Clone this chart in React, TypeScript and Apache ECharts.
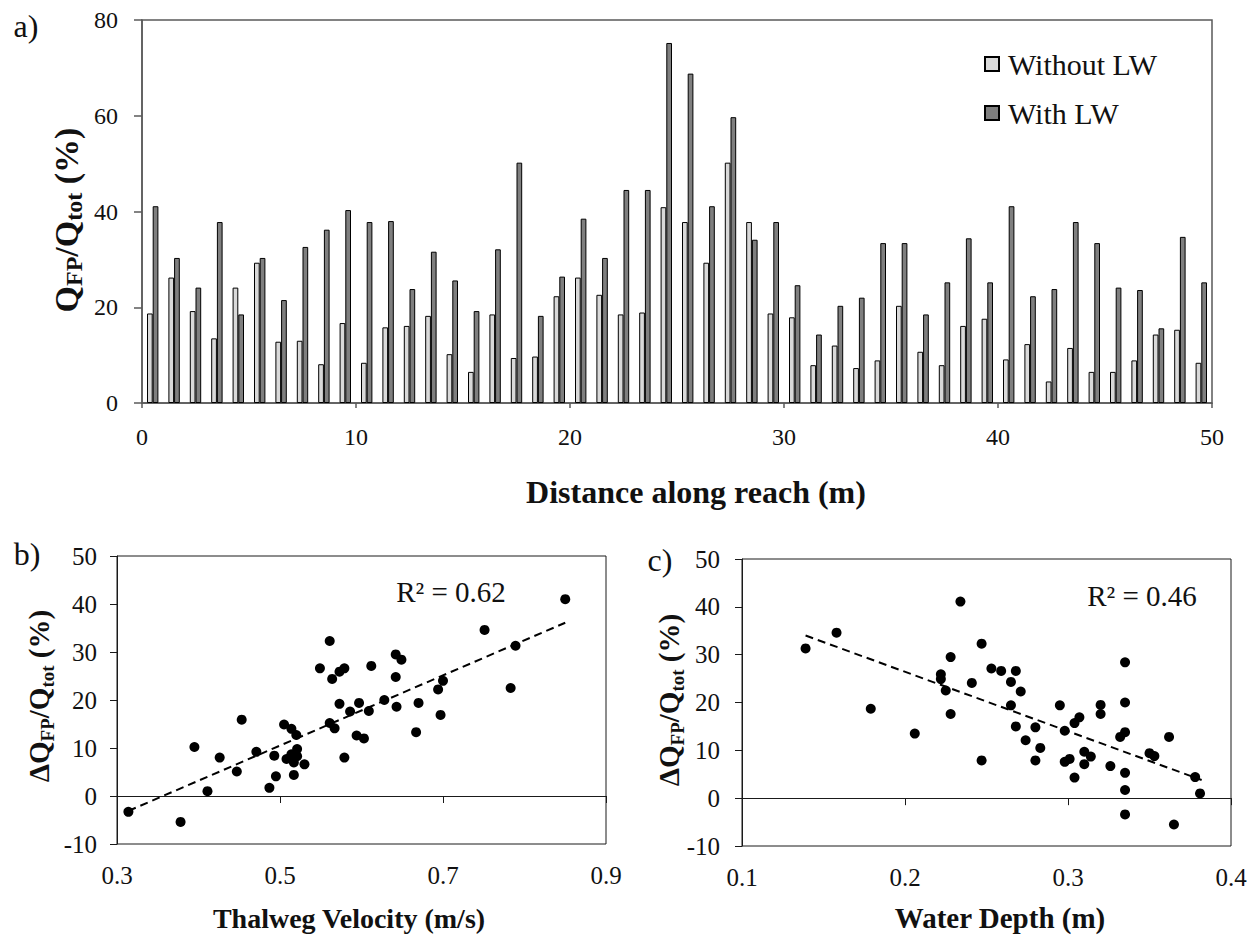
import React, { useEffect, useRef } from "react";
import * as echarts from "echarts";

// ---------- Data ----------
const positions = [
  "0.5","1.5","2.5","3.5","4.5","5.5","6.5","7.5","8.5","9.5",
  "10.5","11.5","12.5","13.5","14.5","15.5","16.5","17.5","18.5","19.5",
  "20.5","21.5","22.5","23.5","24.5","25.5","26.5","27.5","28.5","29.5",
  "30.5","31.5","32.5","33.5","34.5","35.5","36.5","37.5","38.5","39.5",
  "40.5","41.5","42.5","43.5","44.5","45.5","46.5","47.5","48.5","49.5",
];
const withoutLW = [
  18.7, 26.2, 19.2, 13.5, 24.1, 29.3, 12.8, 13.0, 8.1, 16.7,
  8.4, 15.8, 16.1, 18.2, 10.2, 6.5, 18.5, 9.4, 9.7, 22.3,
  26.2, 22.6, 18.5, 18.9, 40.9, 37.8, 29.3, 50.2, 37.8, 18.7,
  17.9, 7.9, 12.0, 7.3, 8.9, 20.3, 10.7, 7.9, 16.1, 17.6,
  9.1, 12.3, 4.5, 11.5, 6.5, 6.5, 8.9, 14.3, 15.3, 8.4,
];
const withLW = [
  41.1, 30.3, 24.1, 37.8, 18.5, 30.3, 21.5, 32.6, 36.2, 40.3,
  37.8, 38.0, 23.8, 31.6, 25.6, 19.2, 32.1, 50.2, 18.2, 26.4,
  38.5, 30.3, 44.5, 44.5, 75.2, 68.8, 41.1, 59.7, 34.1, 37.8,
  24.6, 14.3, 20.3, 22.0, 33.4, 33.4, 18.5, 25.2, 34.4, 25.2,
  41.1, 22.3, 23.8, 37.8, 33.4, 24.1, 23.6, 15.6, 34.7, 25.2,
];

const velocityB = [
  0.314, 0.378, 0.395, 0.411, 0.426, 0.447, 0.453, 0.471, 0.487, 0.493,
  0.495, 0.505, 0.508, 0.514, 0.514, 0.517, 0.517, 0.520, 0.521, 0.521,
  0.530, 0.549, 0.561, 0.561, 0.564, 0.567, 0.573, 0.573, 0.579, 0.579,
  0.586, 0.594, 0.597, 0.603, 0.609, 0.612, 0.628, 0.642, 0.642, 0.643,
  0.649, 0.667, 0.670, 0.694, 0.697, 0.700, 0.751, 0.783, 0.789, 0.850,
];
const deltaB = [
  -3.3, -5.4, 10.2, 1.0, 8.0, 5.1, 15.9, 9.2, 1.7, 8.4,
  4.1, 14.9, 7.7, 14.0, 8.7, 7.0, 4.4, 12.7, 9.8, 8.3,
  6.6, 26.6, 32.3, 15.2, 24.4, 14.1, 25.9, 19.2, 26.6, 8.0,
  17.6, 12.6, 19.4, 12.0, 17.7, 27.1, 20.0, 29.5, 24.8, 18.6,
  28.4, 13.3, 19.4, 22.2, 16.9, 24.0, 34.6, 22.5, 31.3, 41.0,
];
const trendBx = [0.314, 0.85];
const trendBy = [-3.1, 36.1];

const depthC = [
  0.139, 0.158, 0.179, 0.206, 0.222, 0.222, 0.225, 0.228, 0.228, 0.234,
  0.241, 0.247, 0.247, 0.253, 0.259, 0.265, 0.265, 0.268, 0.268, 0.271,
  0.274, 0.280, 0.280, 0.283, 0.295, 0.298, 0.298, 0.301, 0.304, 0.304,
  0.307, 0.310, 0.310, 0.314, 0.320, 0.320, 0.326, 0.332, 0.335, 0.335,
  0.335, 0.335, 0.335, 0.335, 0.350, 0.353, 0.362, 0.365, 0.378, 0.381,
];
const deltaC = [
  31.3, 34.6, 18.7, 13.5, 25.9, 24.9, 22.5, 29.5, 17.6, 41.1,
  24.1, 32.3, 7.9, 27.1, 26.6, 24.3, 19.4, 26.6, 15.0, 22.3,
  12.1, 14.8, 7.9, 10.5, 19.4, 14.1, 7.6, 8.2, 15.7, 4.3,
  16.9, 9.7, 7.1, 8.7, 19.5, 17.6, 6.7, 12.8, 28.4, 20.0,
  13.8, 5.3, 1.7, -3.4, 9.4, 8.8, 12.8, -5.5, 4.4, 1.0,
];
const trendCx = [0.139, 0.382];
const trendCy = [34.0, 3.8];

const ticksB = [0.3, 0.5, 0.7, 0.9];
const ticksC = [0.1, 0.2, 0.3, 0.4];

// ---------- Styling helpers ----------
const FONT = "'Liberation Serif', 'Times New Roman', serif";
const TXT = "#111";
const A_LINE = "#5a5a5a";
const BC_LINE = "#1a1a1a";

const yTitleRich = (delta: boolean, main: number, sub: number) => ({
  text: (delta ? "{m|ΔQ}" : "{m|Q}") + "{s|FP}{m|/Q}{s|tot}{m| (%)}",
  rich: {
    m: { fontSize: main, fontWeight: "bold", fontFamily: FONT, fill: TXT, lineHeight: main + 6, verticalAlign: "middle" },
    s: { fontSize: sub, fontWeight: "bold", fontFamily: FONT, fill: TXT, lineHeight: sub - 4, verticalAlign: "bottom" },
  },
  align: "center",
  verticalAlign: "middle",
});

const plainText = (x: number, y: number, text: string, size: number, bold = false) => ({
  type: "text",
  x,
  y,
  style: {
    text,
    fontSize: size,
    fontWeight: bold ? "bold" : "normal",
    fontFamily: FONT,
    fill: TXT,
    align: "center",
    verticalAlign: "middle",
  },
});

export default function App() {
  const ref = useRef<HTMLDivElement>(null);

  useEffect(() => {
    if (!ref.current) return;
    const chart = echarts.init(ref.current, null, { renderer: "svg" });

    const labelA = { fontSize: 24, fontFamily: FONT, color: TXT };
    const labelBC = { fontSize: 25, fontFamily: FONT, color: TXT };

    const option: any = {
      animation: false,
      backgroundColor: "#fff",
      grid: [
        { left: 142, top: 20, width: 1070, height: 383, show: true, borderColor: A_LINE, borderWidth: 1.5, backgroundColor: "transparent" },
        { left: 117, top: 556, width: 489, height: 288, show: true, borderColor: BC_LINE, borderWidth: 1, backgroundColor: "transparent" },
        { left: 742, top: 559, width: 489, height: 287, show: true, borderColor: BC_LINE, borderWidth: 1, backgroundColor: "transparent" },
      ],
      xAxis: [
        { type: "category", gridIndex: 0, data: positions, show: false, boundaryGap: true },
        {
          type: "value", gridIndex: 0, min: 0, max: 50, interval: 10, position: "bottom",
          axisLine: { show: true, lineStyle: { color: A_LINE, width: 1.5 } },
          axisTick: { show: true, inside: false, length: 5, lineStyle: { color: A_LINE, width: 1.5 } },
          axisLabel: { ...labelA, margin: 22, showMinLabel: true, showMaxLabel: true },
          splitLine: { show: false },
        },
        {
          type: "value", gridIndex: 1, min: 0.3, max: 0.9, position: "bottom",
          axisLine: { show: true, lineStyle: { color: BC_LINE, width: 1 } },
          axisTick: { show: true, inside: false, length: 7, customValues: ticksB, lineStyle: { color: BC_LINE } },
          axisLabel: { ...labelBC, margin: 19, customValues: ticksB, formatter: (v: number) => v.toFixed(1) },
          splitLine: { show: false },
        },
        {
          type: "value", gridIndex: 2, min: 0.1, max: 0.4, position: "bottom",
          axisLine: { show: true, lineStyle: { color: BC_LINE, width: 1 } },
          axisTick: { show: true, inside: false, length: 7, customValues: ticksC, lineStyle: { color: BC_LINE } },
          axisLabel: { ...labelBC, margin: 19, customValues: ticksC, formatter: (v: number) => v.toFixed(1) },
          splitLine: { show: false },
        },
      ],
      yAxis: [
        {
          type: "value", gridIndex: 0, min: 0, max: 80, interval: 20,
          axisLine: { show: true, lineStyle: { color: A_LINE, width: 1.5 } },
          axisTick: { show: true, inside: false, length: 8, lineStyle: { color: A_LINE, width: 1.5 } },
          axisLabel: { ...labelA, margin: 24 },
          splitLine: { show: false },
        },
        {
          type: "value", gridIndex: 1, min: -10, max: 50, interval: 10,
          axisLine: { show: true, lineStyle: { color: BC_LINE, width: 1 } },
          axisTick: { show: true, inside: false, length: 7, lineStyle: { color: BC_LINE } },
          axisLabel: { ...labelBC, margin: 20 },
          splitLine: { show: false },
        },
        {
          type: "value", gridIndex: 2, min: -10, max: 50, interval: 10,
          axisLine: { show: true, lineStyle: { color: BC_LINE, width: 1 } },
          axisTick: { show: true, inside: false, length: 7, lineStyle: { color: BC_LINE } },
          axisLabel: { ...labelBC, margin: 22 },
          splitLine: { show: false },
        },
      ],
      legend: {
        data: ["Without LW", "With LW"],
        orient: "vertical",
        left: 979,
        top: 44,
        icon: "rect",
        itemWidth: 14,
        itemHeight: 14,
        itemGap: 19,
        textStyle: { fontSize: 30, fontFamily: FONT, color: TXT, lineHeight: 30, padding: [0, 0, 0, 4] },
      },
      series: [
        {
          name: "Without LW", type: "bar", xAxisIndex: 0, yAxisIndex: 0, data: withoutLW,
          barWidth: 5.7, barGap: "0%",
          itemStyle: { color: "#d9d9d9", borderColor: "#000", borderWidth: 1 },
        },
        {
          name: "With LW", type: "bar", xAxisIndex: 0, yAxisIndex: 0, data: withLW,
          barWidth: 5.7, barGap: "0%",
          itemStyle: { color: "#7f7f7f", borderColor: "#000", borderWidth: 1 },
        },
        {
          type: "scatter", xAxisIndex: 2, yAxisIndex: 1,
          data: velocityB.map((v, i) => [v, deltaB[i]]),
          symbolSize: 10, itemStyle: { color: "#000", opacity: 1 },
        },
        {
          type: "line", xAxisIndex: 2, yAxisIndex: 1,
          data: trendBx.map((v, i) => [v, trendBy[i]]),
          showSymbol: false, symbol: "none",
          lineStyle: { color: "#000", width: 2, type: [8, 5] },
        },
        {
          type: "scatter", xAxisIndex: 3, yAxisIndex: 2,
          data: depthC.map((v, i) => [v, deltaC[i]]),
          symbolSize: 10, itemStyle: { color: "#000", opacity: 1 },
        },
        {
          type: "line", xAxisIndex: 3, yAxisIndex: 2,
          data: trendCx.map((v, i) => [v, trendCy[i]]),
          showSymbol: false, symbol: "none",
          lineStyle: { color: "#000", width: 2, type: [8, 5] },
        },
      ],
      graphic: [
        plainText(26, 26, "a)", 32),
        plainText(27, 554, "b)", 32),
        plainText(660, 560, "c)", 32),
        { type: "text", x: 66, y: 220, rotation: Math.PI / 2, style: yTitleRich(false, 34, 24) },
        { type: "text", x: 39, y: 696, rotation: Math.PI / 2, style: yTitleRich(true, 29, 19) },
        { type: "text", x: 669, y: 700, rotation: Math.PI / 2, style: yTitleRich(true, 29, 19) },
        plainText(696, 492, "Distance along reach (m)", 32, true),
        plainText(349, 918, "Thalweg Velocity (m/s)", 28, true),
        plainText(1000, 918, "Water Depth (m)", 29, true),
        plainText(451, 592, "R² = 0.62", 29),
        plainText(1142, 596, "R² = 0.46", 29),
      ],
    };

    chart.setOption(option);
    return () => chart.dispose();
  }, []);

  return (
    <div
      ref={ref}
      style={{ position: "absolute", left: 0, top: 0, width: 1255, height: 939, background: "#fff" }}
    />
  );
}
